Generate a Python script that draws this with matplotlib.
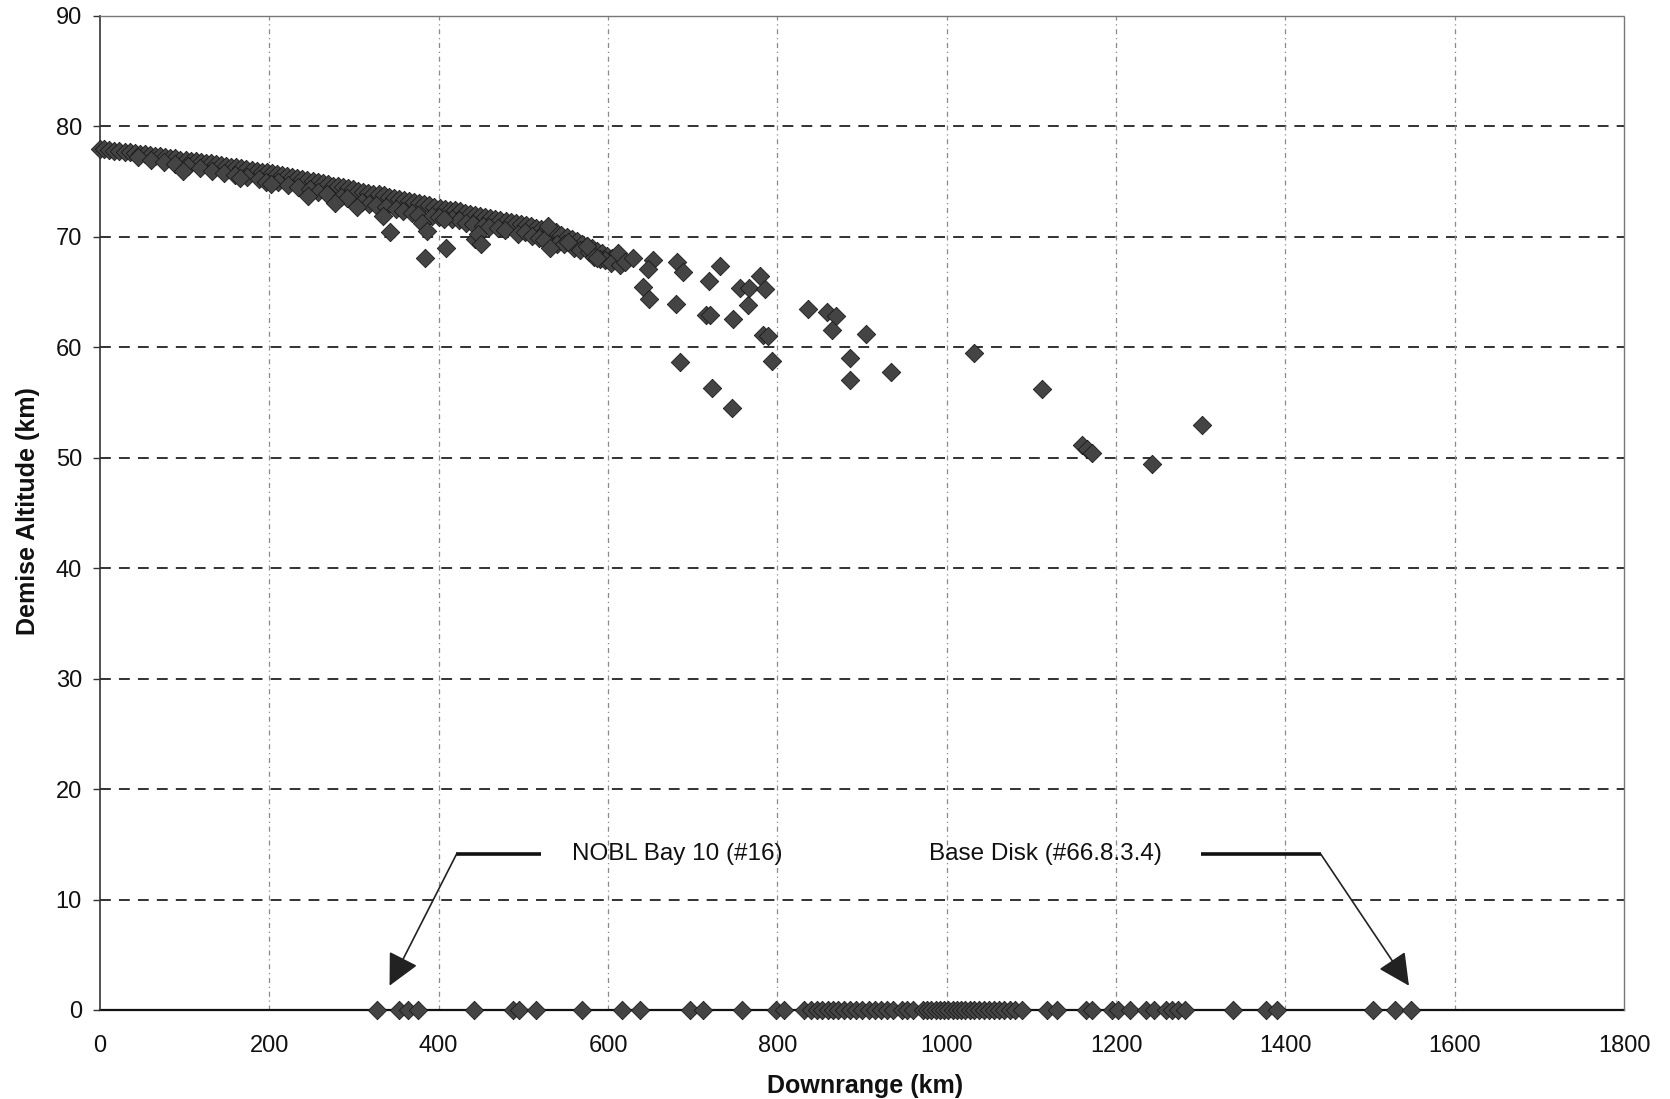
import matplotlib
matplotlib.use("Agg")
import matplotlib.pyplot as plt

plt.rcParams['font.family'] = ['Liberation Sans', 'DejaVu Sans']

# ---------------- data ----------------
# dense band of demise points: upper row
band_top_km = [0, 5, 11, 17, 23, 29, 35, 41, 47, 53, 59, 65, 71, 77, 83, 89, 95, 101, 107, 113,
               119, 125, 131, 137, 143, 149, 155, 161, 167, 173, 179, 185, 191, 197, 203, 209, 215,
               221, 227, 233, 239, 245, 251, 257, 263, 269, 275, 281, 287, 293, 299, 305, 311, 317,
               323, 329, 335, 341, 347, 353, 359, 365, 371, 377, 383, 389, 395, 401, 407, 413, 419,
               425, 431, 437, 443, 449, 455, 461, 467, 473, 479, 485, 491, 497, 503, 509, 515, 521,
               527, 533, 539, 545, 551, 557, 563, 569, 575, 581, 587, 593, 599, 605, 611]
band_top_alt = [78.0, 77.95, 77.9, 77.8, 77.8, 77.7, 77.65, 77.6, 77.5, 77.5, 77.4, 77.35, 77.3,
                77.2, 77.15, 77.1, 77.0, 77.0, 76.9, 76.85, 76.8, 76.7, 76.65, 76.6, 76.5, 76.45,
                76.35, 76.3, 76.2, 76.15, 76.05, 76.0, 75.9, 75.85, 75.75, 75.65, 75.6, 75.5, 75.4,
                75.3, 75.25, 75.15, 75.05, 74.95, 74.85, 74.75, 74.65, 74.6, 74.5, 74.4, 74.3, 74.2,
                74.1, 74.0, 73.9, 73.85, 73.75, 73.65, 73.55, 73.45, 73.35, 73.25, 73.15, 73.05,
                72.95, 72.85, 72.75, 72.65, 72.55, 72.45, 72.4, 72.3, 72.2, 72.1, 72.0, 71.9, 71.8,
                71.7, 71.6, 71.5, 71.4, 71.35, 71.25, 71.15, 71.05, 70.95, 70.85, 70.75, 70.6, 70.5,
                70.4, 70.2, 70.0, 69.8, 69.6, 69.4, 69.2, 69.0, 68.7, 68.5, 68.3, 68.1, 67.9]

# dense band: lower row
band_low_km = [45, 60, 75, 88, 104, 118, 132, 146, 160, 174, 188, 196, 210, 222, 234, 248, 258, 268,
               285, 292, 310, 318, 326, 338, 350, 358, 368, 376, 392, 400, 416, 424, 432, 440, 452,
               460, 470, 478, 494, 502, 510, 518, 524, 540, 548, 560, 567, 578, 584, 590, 596, 604, 614]
band_low_alt = [77.2, 77.0, 76.8, 76.6, 76.45, 76.2, 76.0, 75.8, 75.6, 75.4, 75.2, 75.0, 74.95, 74.7,
                74.5, 74.3, 74.1, 73.9, 73.6, 73.5, 73.2, 73.0, 72.9, 72.7, 72.5, 72.3, 72.2, 72.0,
                71.9, 71.8, 71.6, 71.5, 71.3, 71.2, 71.0, 70.9, 70.8, 70.6, 70.3, 70.4, 70.1, 69.9,
                69.7, 69.4, 69.4, 69.0, 68.8, 68.6, 68.2, 68.0, 67.9, 67.6, 67.5]

# points dipping below the band
dip_km = [98, 165, 202, 246, 278, 303, 334, 342, 380, 386, 384, 406, 409, 443, 446, 450, 529, 531,
          553, 575, 587, 612, 620]
dip_alt = [76.0, 75.3, 74.8, 73.7, 73.1, 72.7, 71.9, 70.4, 71.3, 70.5, 68.1, 71.6, 69.0, 69.8, 70.3,
           69.4, 71.0, 69.0, 69.5, 69.2, 68.1, 68.5, 67.7]

# scattered points beyond the band
scat_km = [630, 653, 647, 641, 648, 681, 689, 732, 719, 680, 716, 721, 748, 765, 756, 767, 780, 786,
           783, 789, 836, 859, 869, 865, 905, 685, 794, 886, 886, 934, 723, 746, 1032, 1113, 1160,
           1166, 1172, 1242, 1301]
scat_alt = [68.1, 67.9, 67.1, 65.5, 64.4, 67.7, 66.8, 67.4, 66.0, 63.9, 62.9, 62.9, 62.6, 63.8, 65.4,
            65.4, 66.5, 65.3, 61.1, 61.0, 63.5, 63.2, 62.8, 61.6, 61.2, 58.7, 58.8, 59.0, 57.0, 57.8,
            56.3, 54.5, 59.5, 56.2, 51.2, 50.8, 50.4, 49.4, 53.0]

# objects that survive to the ground (altitude 0)
ground_km = [327, 353, 364, 375, 442, 488, 495, 515, 569, 616, 638, 697, 712, 758, 799, 808,
             832, 840, 847, 853, 860, 866, 872, 879, 886, 893, 900, 908, 915, 922, 930, 937,
             947, 953, 960, 972, 977, 982, 987, 992, 997, 1002, 1007, 1012, 1017, 1022, 1027,
             1032, 1038, 1044, 1050, 1056, 1062, 1068, 1075, 1081, 1089, 1118, 1130, 1165, 1172,
             1195, 1202, 1217, 1236, 1245, 1259, 1266, 1273, 1281, 1338, 1377, 1390, 1504, 1529, 1548]
ground_alt = [0.0] * len(ground_km)

x_ticks = [0, 200, 400, 600, 800, 1000, 1200, 1400, 1600, 1800]
y_ticks = [0, 10, 20, 30, 40, 50, 60, 70, 80, 90]

label_nobl = "NOBL Bay 10 (#16)"
label_disk = "Base Disk (#66.8.3.4)"

# ---------------- figure ----------------
W, H = 1670, 1099
fig = plt.figure(figsize=(W / 100, H / 100), dpi=100)
ax = fig.add_axes([100 / W, 1 - 1010 / H, 1524 / W, (1010 - 16) / H])
ax.set_xlim(0, 1800)
ax.set_ylim(0, 90)

# grid
for yv in y_ticks[1:-1]:
    ax.axhline(yv, color='#222222', lw=1.3, dashes=(6, 4.5), zorder=1)
for xv in x_ticks[1:-1]:
    ax.axvline(xv, color='#8a8a8a', lw=0.9, dashes=(4, 3, 1, 3), zorder=1)

mk = dict(marker='D', s=88, c='#444444', edgecolors='#1a1a1a', linewidths=0.6, zorder=3, clip_on=False)
ax.scatter(band_top_km, band_top_alt, **mk)
ax.scatter(band_low_km, band_low_alt, **mk)
ax.scatter(dip_km, dip_alt, **mk)
ax.scatter(scat_km, scat_alt, **mk)
ax.scatter(ground_km, ground_alt, **mk)

# spines
for s in ['top', 'right']:
    ax.spines[s].set_color('#777777')
    ax.spines[s].set_linewidth(1.0)
    ax.spines[s].set_linestyle((0, (1, 1)))
ax.spines['left'].set_color('#333333')
ax.spines['left'].set_linewidth(1.2)
ax.spines['bottom'].set_color('#111111')
ax.spines['bottom'].set_linewidth(1.6)
ax.spines['bottom'].set_zorder(2)

ax.set_xticks(x_ticks)
ax.set_yticks(y_ticks)
ax.tick_params(axis='y', direction='out', length=5, width=1, color='#333333', pad=8,
               labelsize=17, labelcolor='#111111')
ax.tick_params(axis='x', length=0, pad=18, labelsize=17, labelcolor='#111111')

fig.text(865 / W, 1 - 1086 / H, 'Downrange (km)', ha='center', va='center',
         fontsize=18, fontweight='bold', color='#111111')
fig.text(28 / W, 1 - 511 / H, 'Demise Altitude (km)', ha='center', va='center',
         rotation=90, fontsize=18, fontweight='bold', color='#111111')

# annotations
ax.plot([421, 521], [14.1, 14.1], color='#111111', lw=2.6, solid_capstyle='butt', zorder=4)
ax.annotate('', xy=(342, 2.2), xytext=(421, 14.1),
            arrowprops=dict(arrowstyle='-|>,head_length=0.9,head_width=0.45', color='#222222',
                            lw=1.2, shrinkA=0, shrinkB=0, mutation_scale=22), zorder=4)
ax.text(558, 14.1, label_nobl, ha='left', va='center', fontsize=17.5, color='#111111')

ax.plot([1300, 1442], [14.1, 14.1], color='#111111', lw=2.6, solid_capstyle='butt', zorder=4)
ax.annotate('', xy=(1546, 2.2), xytext=(1442, 14.1),
            arrowprops=dict(arrowstyle='-|>,head_length=0.9,head_width=0.45', color='#222222',
                            lw=1.2, shrinkA=0, shrinkB=0, mutation_scale=22), zorder=4)
ax.text(979, 14.1, label_disk, ha='left', va='center', fontsize=17.5, color='#111111')

fig.savefig('out.png', dpi=100)
